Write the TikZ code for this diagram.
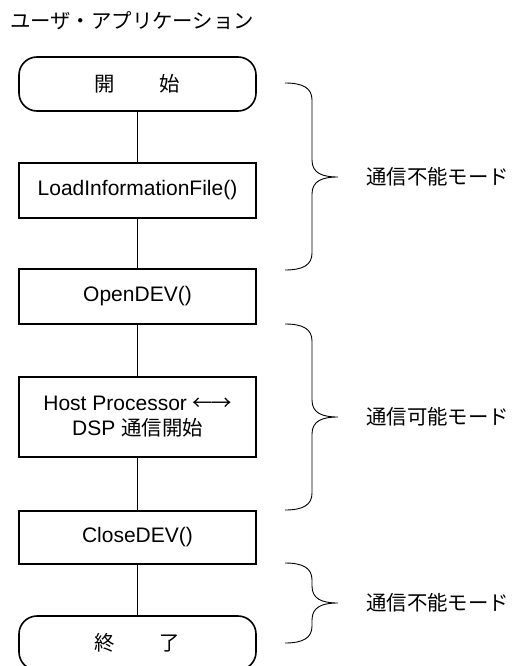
\documentclass[tikz,border=0pt]{standalone}
\usepackage{fontspec}
\setmainfont{Liberation Sans}
\newfontfamily\jpfamily{Noto Sans CJK JP}
% Japanese text at its own size
\newcommand\cjktext[1]{{\jpfamily\fontsize{20.4}{26}\selectfont #1}}
\begin{document}
\begin{tikzpicture}[x=1pt,y=-1pt,
  procbox/.style={draw, line width=1.6pt, minimum width=237pt, inner sep=0pt,
    align=center, font=\fontsize{21}{26}\selectfont},
  termbox/.style={procbox, rounded corners=18pt},
  flow/.style={line width=0.9pt},
  bracepath/.style={line width=0.9pt},
  modelabel/.style={anchor=west, inner sep=0pt}]
\useasboundingbox (0,0) rectangle (516,666);

% heading
\node[anchor=west, inner sep=0pt] (title) at (10,21) {\cjktext{ユーザ・アプリケーション}};

% flow of the user application
\node[termbox, minimum height=54pt] (start) at (137.5,84) {\cjktext{開\hspace{45pt}始}};
\node[procbox, minimum height=55pt] (load) at (137.5,190.5) {LoadInformationFile()};
\node[procbox, minimum height=55pt] (open) at (137.5,296.5) {OpenDEV()};
\node[procbox, minimum height=80pt] (host) at (137.5,417)
  {Host Processor \cjktext{←\kern-2pt→}\\[-1pt]DSP \cjktext{通信開始}};
\node[procbox, minimum height=53pt] (close) at (137.5,537.5) {CloseDEV()};
\node[termbox, minimum height=54pt] (finish) at (137.5,643) {\cjktext{終\hspace{45pt}了}};

\draw[flow] (start) -- (load);
\draw[flow] (load) -- (open);
\draw[flow] (open) -- (host);
\draw[flow] (host) -- (close);
\draw[flow] (close) -- (finish);

% curly braces marking the communication modes (top, tip, bottom)
\newcommand\modebrace[3]{%
  \draw[bracepath] (285,#1) .. controls (303,#1) and (312,#1+5) .. (312,#1+17)
    -- (312,#2-17) .. controls (312,#2-4) and (322,#2) .. (338,#2)
    .. controls (322,#2) and (312,#2+4) .. (312,#2+17)
    -- (312,#3-17) .. controls (312,#3-5) and (303,#3) .. (285,#3);}
\modebrace{83}{177}{270}
\modebrace{324}{417}{510}
\modebrace{563}{603}{643}
\coordinate (tipA) at (338,177);
\coordinate (tipB) at (338,417);
\coordinate (tipC) at (338,603);

\node[modelabel] (modeA) at ([xshift=28pt]tipA) {\cjktext{通信不能モード}};
\node[modelabel] (modeB) at ([xshift=28pt]tipB) {\cjktext{通信可能モード}};
\node[modelabel] (modeC) at ([xshift=28pt]tipC) {\cjktext{通信不能モード}};
\end{tikzpicture}
\end{document}
